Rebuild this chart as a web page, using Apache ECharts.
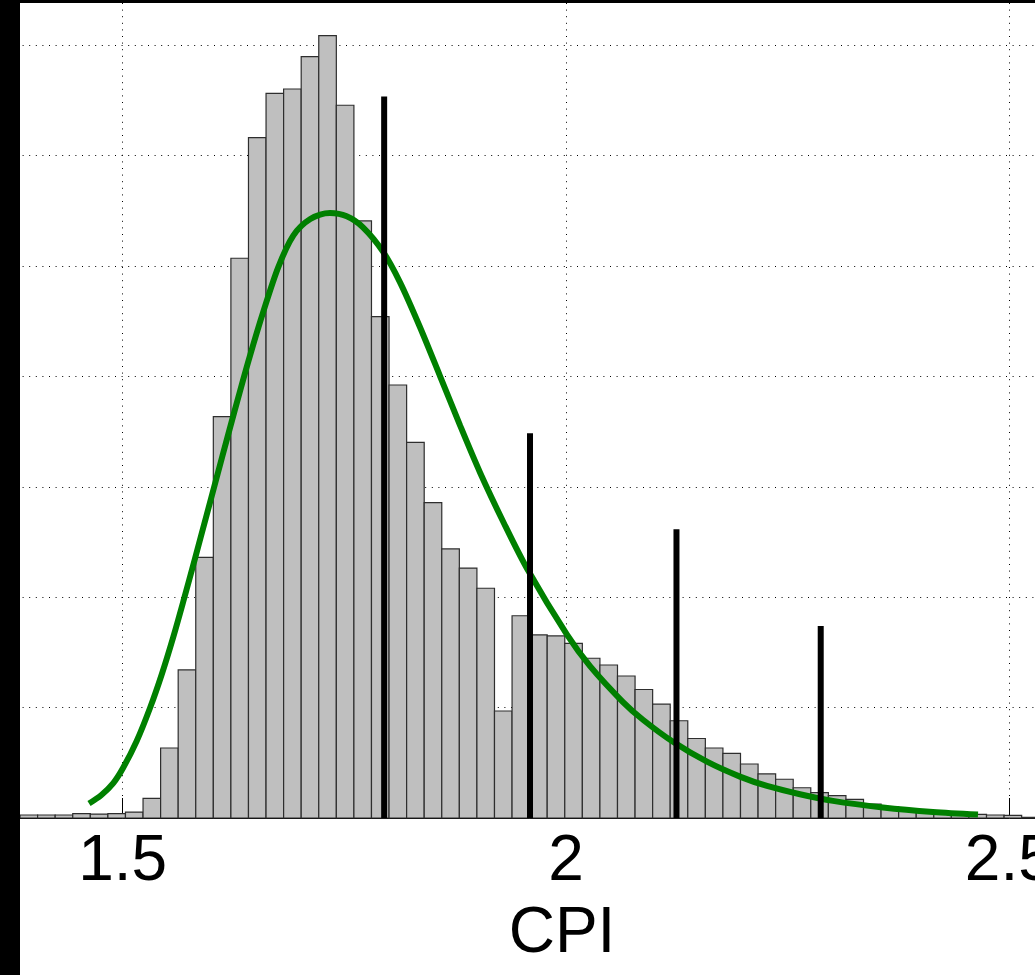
<!DOCTYPE html>
<html>
<head>
<meta charset="utf-8">
<style>
  html, body { margin: 0; padding: 0; background: #000; overflow: hidden; width: 1035px; height: 975px; }
  #chart { position: absolute; left: -321px; top: 3px; width: 1800px; height: 972px; background: #fff; }
  #edge { position: absolute; left: 0; top: 0; width: 20px; height: 975px; background: #000; z-index: 5; }
</style>
<script src="https://cdn.jsdelivr.net/npm/echarts@6/dist/echarts.min.js"></script>
</head>
<body>
<div id="chart"></div>
<div id="edge"></div>
<script>
// histogram bins (CPI)
const binStart = 1.3842;
const binWidth = 0.01982;
const counts = [2.7, 2.7, 2.7, 3.9, 3.6, 3.9, 5.4, 17.8, 63.4, 134.1, 236.1, 363.5, 507.0, 616.2,
    656.4, 660.3, 689.6, 708.6, 645.6, 540.8, 454.1, 392.2, 340.3, 285.6, 243.7, 226.4, 208.1,
    96.9, 183.2, 165.8, 164.9, 158.2, 144.7, 138.6, 128.6, 116.4, 103.1, 88.1, 72.0, 63.4, 58.6,
    48.9, 39.9, 35.1, 27.4, 22.9, 20.2, 16.9, 12.7, 10.2, 7.2, 5.4, 4.5, 4.5, 3.2, 2.7, 2.3, 0.6];

// fitted density curve
const fitX = [1.462, 1.4757, 1.4894, 1.5007, 1.5158, 1.5308, 1.5440, 1.5571, 1.5684, 1.5815, 1.5947,
    1.6060, 1.6191, 1.6323, 1.6436, 1.6586, 1.6755, 1.6924, 1.7116, 1.7338, 1.7527, 1.7710,
    1.7936, 1.8128, 1.8350, 1.8579, 1.8805, 1.9030, 1.9300, 1.9560, 2.0011, 2.0271, 2.0643,
    2.0868, 2.1207, 2.1590, 2.1962, 2.2267, 2.2639, 2.3011, 2.3575, 2.4139, 2.4647];
const fitY = [13.1, 20.6, 31.6, 45.7, 69.7, 99.6, 130.0, 164.1, 196.3, 234.9, 274.5,
    308.4, 347.7, 386.6, 418.8, 458.6, 499, 527.5, 542.5, 548, 545, 535,
    513, 485.2, 445.2, 400.3, 355.6, 313, 267, 226, 166, 137.5, 105,
    89, 69, 51, 37.5, 29, 21.5, 15.5, 9.6, 5.5, 3.1];

// vertical markers
const markX = [1.7949, 1.9594, 2.1246, 2.2873];
const markH = [653.4, 348.5, 261.5, 173.9];

const xTicks = [1, 3, 0.5];   // min, max, interval
const yMax = 738.2;

window.addEventListener('load', function () {
    let chart = echarts.init(document.getElementById('chart'));

    let histData = counts.map(function (c, i) {
        return [binStart + i * binWidth, binStart + (i + 1) * binWidth, c];
    });
    let fitData = fitX.map(function (x, i) { return [x, fitY[i]]; });
    let markData = markX.map(function (x, i) { return [x, markH[i]]; });

    let dotted = { color: '#000', width: 1, type: [1, 5.6] };
    let pxPerUnit = 886.6;

    let option = {
        animation: false,
        grid: {
            left: 0.4,
            top: 0,
            width: (xTicks[1] - xTicks[0]) * pxPerUnit,
            height: 815,
            outerBoundsMode: 'none',
            containLabel: false
        },
        xAxis: {
            type: 'value',
            min: xTicks[0],
            max: xTicks[1],
            interval: xTicks[2],
            axisLine: { show: true, onZero: false, lineStyle: { color: '#000', width: 1 } },
            axisTick: { show: true, inside: true, length: 20, lineStyle: { color: '#000' } },
            axisLabel: { color: '#000', fontSize: 64, fontFamily: 'Liberation Sans', margin: 12 },
            splitLine: { show: true, lineStyle: dotted }
        },
        yAxis: {
            type: 'value',
            min: 0,
            max: yMax,
            interval: 100,
            axisLine: { show: false },
            axisTick: { show: false },
            axisLabel: { show: false },
            splitLine: { show: true, showMaxLine: false, lineStyle: dotted }
        },
        graphic: [{
            type: 'text',
            x: 883,
            y: 931,
            style: {
                text: 'CPI', fill: '#000', font: '64px "Liberation Sans"',
                textAlign: 'center', textVerticalAlign: 'middle'
            }
        }],
        series: [{
            type: 'custom',
            z: 2,
            data: histData,
            encode: { x: [0, 1], y: 2 },
            renderItem: function (params, api) {
                let p0 = api.coord([api.value(0), api.value(2)]);
                let p1 = api.coord([api.value(1), 0]);
                return {
                    type: 'rect',
                    shape: { x: p0[0], y: p0[1], width: p1[0] - p0[0], height: p1[1] - p0[1] },
                    style: { fill: '#bfbfbf', stroke: '#2e2e2e', lineWidth: 1.2 }
                };
            }
        }, {
            type: 'line',
            z: 3,
            data: fitData,
            smooth: 0.3,
            showSymbol: false,
            lineStyle: { color: '#008000', width: 6 }
        }, {
            type: 'custom',
            z: 4,
            data: markData,
            encode: { x: 0, y: 1 },
            renderItem: function (params, api) {
                let top = api.coord([api.value(0), api.value(1)]);
                let bot = api.coord([api.value(0), 0]);
                return {
                    type: 'line',
                    shape: { x1: top[0], y1: top[1], x2: bot[0], y2: bot[1] },
                    style: { stroke: '#000', lineWidth: 6 }
                };
            }
        }]
    };

    chart.setOption(option);
}, false);
</script>
</body>
</html>
